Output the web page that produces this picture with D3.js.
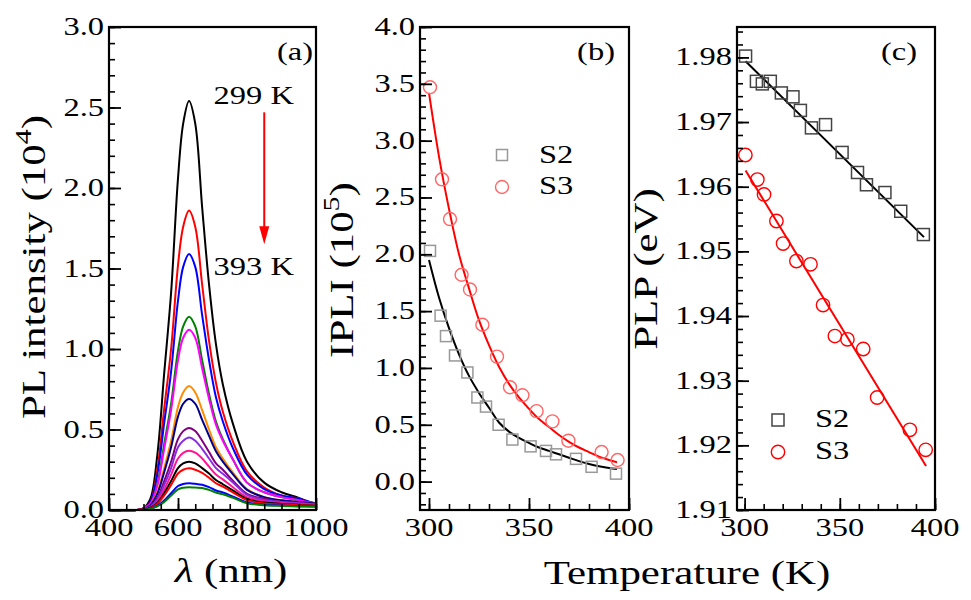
<!DOCTYPE html>
<html><head><meta charset="utf-8">
<script src="https://cdn.jsdelivr.net/npm/d3@7"></script>
<style>
body{margin:0;background:#fff}
svg{display:block;background:#fff}
text{font-family:"Liberation Serif","Times New Roman",serif;fill:#000}
</style>
</head><body>
<svg id="chart" width="971" height="600"></svg>
<script>
// ---------- Panel (a): PL spectra ----------
const lambdaGrid=[400,480,500,520,540,560,580,600,615,632,650,670,690,710,730,760,800,850,900,950,1000];
const spectrum01=[0,0,0.01,0.07,0.34,0.85,1.35,2.06,2.40,2.54,2.40,1.88,1.40,1.03,0.78,0.53,0.30,0.17,0.11,0.075,0.03];
const spectrum02=[0,0,0.01,0.05,0.25,0.63,1.00,1.52,1.76,1.86,1.76,1.40,1.05,0.79,0.61,0.42,0.24,0.14,0.09,0.07,0.03];
const spectrum03=[0,0,0.01,0.05,0.22,0.54,0.86,1.30,1.51,1.59,1.51,1.21,0.93,0.70,0.55,0.38,0.22,0.13,0.09,0.07,0.04];
const spectrum04=[0,0,0.01,0.04,0.16,0.41,0.66,0.99,1.14,1.20,1.14,0.93,0.72,0.55,0.44,0.31,0.17,0.11,0.08,0.06,0.04];
const spectrum05=[0,0,0.01,0.04,0.15,0.38,0.62,0.93,1.07,1.12,1.07,0.88,0.69,0.53,0.43,0.31,0.17,0.11,0.08,0.06,0.04];
const spectrum06=[0,0,0.005,0.03,0.11,0.26,0.43,0.64,0.73,0.77,0.73,0.62,0.50,0.39,0.32,0.23,0.13,0.08,0.06,0.05,0.04];
const spectrum07=[0,0,0.005,0.03,0.10,0.235,0.39,0.58,0.66,0.69,0.66,0.56,0.46,0.365,0.30,0.22,0.125,0.08,0.06,0.05,0.04];
const spectrum08=[0,0,0.004,0.02,0.074,0.18,0.30,0.44,0.49,0.51,0.49,0.43,0.36,0.29,0.25,0.18,0.10,0.07,0.05,0.045,0.036];
const spectrum09=[0,0,0.004,0.02,0.065,0.155,0.26,0.39,0.43,0.45,0.43,0.38,0.32,0.26,0.225,0.17,0.094,0.062,0.05,0.042,0.034];
const spectrum10=[0,0,0.0035,0.016,0.054,0.127,0.22,0.32,0.355,0.368,0.356,0.32,0.27,0.22,0.19,0.14,0.08,0.054,0.043,0.036,0.03];
const spectrum11=[0,0,0.003,0.014,0.044,0.104,0.18,0.26,0.29,0.30,0.29,0.26,0.226,0.186,0.16,0.12,0.068,0.046,0.038,0.032,0.027];
const spectrum12=[0,0,0.003,0.012,0.038,0.09,0.156,0.227,0.25,0.259,0.25,0.23,0.2,0.166,0.145,0.108,0.061,0.041,0.034,0.029,0.025];
const spectrum13=[0,0,0.002,0.009,0.026,0.059,0.104,0.149,0.162,0.166,0.163,0.157,0.142,0.121,0.109,0.083,0.047,0.033,0.028,0.024,0.021];
const spectrum14=[0,0,0.002,0.008,0.022,0.05,0.09,0.128,0.138,0.141,0.139,0.137,0.125,0.108,0.098,0.075,0.042,0.030,0.025,0.022,0.020];
const spectra=[spectrum01,spectrum02,spectrum03,spectrum04,spectrum05,spectrum06,spectrum07,spectrum08,spectrum09,spectrum10,spectrum11,spectrum12,spectrum13,spectrum14];
const spectrumColors=["#000000","#ff0000","#0000ff","#008000","#ff00ff","#ff8c00","#00008b","#800080","#8a2be2","#ff1493","#000000","#ff0000","#0000ff","#008000"];
const tempLabels=["299 K","393 K"];
const tempLabelPos=[[936,2.52],[936,1.46]];   // data coords (nm, 10^4)
const arrowPos=[[850,2.47],[850,1.65]];
const aXTicks=[400,600,800,1000];
const aYTicks=[0,0.5,1.0,1.5,2.0,2.5,3.0];

// ---------- Panel (b): integrated PL intensity ----------
const bS2Temp=[300.5,305.8,308.5,313,319.2,324.2,328.5,334.8,341.7,350.8,358.5,363.5,373.5,381.3,393.5];
const bS2Val=[2.03,1.46,1.28,1.11,0.96,0.74,0.66,0.50,0.37,0.31,0.27,0.24,0.20,0.13,0.07];
const bS3Temp=[300.5,306.5,310.5,316.3,320.5,326.7,334,340.5,346.7,353.8,361.7,369.7,386.3,394.3];
const bS3Val=[3.47,2.66,2.31,1.82,1.69,1.38,1.10,0.83,0.76,0.62,0.53,0.36,0.26,0.19];
const bFitTemp=[300,305,310,315,320,325,330,335,340,345,350,355,360,365,370,375,380,385,390,394];
const bFitS2=[1.95,1.62,1.35,1.12,0.93,0.78,0.65,0.52,0.44,0.385,0.34,0.30,0.27,0.24,0.21,0.18,0.155,0.135,0.12,0.11];
const bFitS3=[3.42,2.86,2.40,2.00,1.70,1.42,1.20,1.01,0.86,0.74,0.64,0.55,0.48,0.41,0.35,0.30,0.26,0.22,0.19,0.17];
const bXTicks=[300,350,400];
const bYTicks=[0,0.5,1.0,1.5,2.0,2.5,3.0,3.5,4.0];

// ---------- Panel (c): PL peak position ----------
const cS2Temp=[300.5,306.2,309.3,313.5,319.3,325.4,329.3,335.1,342.5,351.2,359.3,364,373.7,382,393.9];
const cS2Val=[1.9802,1.9763,1.9759,1.9763,1.9745,1.9739,1.9718,1.9691,1.9696,1.9653,1.9622,1.9603,1.9591,1.9562,1.9526];
const cS3Temp=[300.4,306.7,310.2,316.7,320.2,327.2,334.6,341.2,347.4,354.0,362.3,369.6,386.8,395.1];
const cS3Val=[1.9649,1.9611,1.9588,1.9547,1.9512,1.9485,1.9480,1.9417,1.9369,1.9364,1.9349,1.9274,1.9224,1.9193];
const cFitS2Temp=[300.5,394.2];
const cFitS2=[1.9794,1.9522];
const cFitS3Temp=[300.5,395.3];
const cFitS3=[1.9625,1.9168];
const cXTicks=[300,350,400];
const cYTicks=[1.91,1.92,1.93,1.94,1.95,1.96,1.97,1.98];

const seriesNames=["S2","S3"];

// ---------- drawing ----------
const SX=1.3;
const svg=d3.select("#chart");
const plotTop=27,plotBottom=510;

function addText(parent,x,y,parts,size,anchor,rot){
  const t=parent.append("text")
    .attr("transform",`translate(${x},${y}) rotate(${rot||0}) scale(${SX},1)`)
    .attr("font-size",size).attr("text-anchor",anchor||"start");
  if(typeof parts==="string"){t.text(parts);return t;}
  let shift=0;
  parts.forEach(p=>{
    const ts=t.append("tspan").text(p.t);
    if(p.sup){ts.attr("font-size",size*0.7).attr("dy",-size*0.42);shift=size*0.42;}
    else if(shift){ts.attr("dy",shift);shift=0;}
    if(p.italic)ts.attr("font-style","italic");
  });
  return t;
}

function frameAndAxes(x,y,xMajor,xMinor,yMajor,yMinor,xFmt,yFmt){
  const g=svg.append("g");
  const [x0,x1]=x.range();
  g.append("g").attr("transform",`translate(0,${plotBottom})`)
    .call(d3.axisBottom(x).tickValues(xMinor).tickSize(-6).tickFormat(""))
    .call(s=>{s.select(".domain").remove();s.selectAll("line").attr("stroke","#000").attr("stroke-width",1.6);});
  g.append("g").attr("transform",`translate(0,${plotBottom})`)
    .call(d3.axisBottom(x).tickValues(xMajor).tickSize(-12).tickFormat(""))
    .call(s=>{s.select(".domain").remove();s.selectAll("line").attr("stroke","#000").attr("stroke-width",1.8);});
  g.append("g").attr("transform",`translate(${x0},0)`)
    .call(d3.axisLeft(y).tickValues(yMinor).tickSize(-6).tickFormat(""))
    .call(s=>{s.select(".domain").remove();s.selectAll("line").attr("stroke","#000").attr("stroke-width",1.6);});
  g.append("g").attr("transform",`translate(${x0},0)`)
    .call(d3.axisLeft(y).tickValues(yMajor).tickSize(-12).tickFormat(""))
    .call(s=>{s.select(".domain").remove();s.selectAll("line").attr("stroke","#000").attr("stroke-width",1.8);});
  g.append("rect").attr("x",x0).attr("y",plotTop).attr("width",x1-x0).attr("height",plotBottom-plotTop)
    .attr("fill","none").attr("stroke","#000").attr("stroke-width",2.2);
  xMajor.forEach(v=>addText(g,x(v),536,xFmt(v),25,"middle"));
  yMajor.forEach(v=>addText(g,x0-5,y(v)+8,yFmt(v),25,"end"));
  return g;
}
function rangeTicks(a,b,step){const out=[];const n=Math.round((b-a)/step);for(let i=0;i<=n;i++)out.push(+(a+i*step).toFixed(6));return out;}

// Panel (a)
const xa=d3.scaleLinear().domain([400,1000]).range([109,316]);
const ya=d3.scaleLinear().domain([0,3]).range([plotBottom,plotTop]);
const lineA=d3.line().x((d,i)=>xa(lambdaGrid[i])).y(d=>ya(d)).curve(d3.curveCatmullRom.alpha(0.5));
const ga=svg.append("g");
spectra.forEach((s,i)=>{
  ga.append("path").attr("d",lineA(s)).attr("fill","none").attr("stroke",spectrumColors[i]).attr("stroke-width",2);
});
frameAndAxes(xa,ya,aXTicks,rangeTicks(400,1000,50),aYTicks,rangeTicks(0,3,0.1),d3.format("d"),d3.format(".1f"));
addText(svg,313,60,"(a)",25,"end");
tempLabels.forEach((t,i)=>addText(svg,xa(tempLabelPos[i][0]),ya(tempLabelPos[i][1]),t,25,"end"));
svg.append("line").attr("x1",xa(arrowPos[0][0])).attr("y1",ya(arrowPos[0][1]))
  .attr("x2",xa(arrowPos[1][0])).attr("y2",ya(arrowPos[1][1])-16).attr("stroke","#ff0000").attr("stroke-width",2);
{
  const ax=xa(arrowPos[1][0]),ay=ya(arrowPos[1][1]);
  svg.append("path").attr("d",`M${ax-5},${ay-18}L${ax+5},${ay-18}L${ax},${ay}Z`).attr("fill","#ff0000");
}
addText(svg,45,267,[{t:"PL intensity (10"},{t:"4",sup:true},{t:")"}],33,"middle",-90);
addText(svg,231,582,[{t:"λ",italic:true},{t:" (nm)"}],33,"middle");

// Panel (b)
const xb=d3.scaleLinear().domain([295.5,400]).range([420,629]);
const yb=d3.scaleLinear().domain([-0.25,4.0]).range([plotBottom,plotTop]);
const lineB=d3.line().x(d=>xb(d[0])).y(d=>yb(d[1])).curve(d3.curveCatmullRom.alpha(0.5));
const gb=svg.append("g");
gb.append("path").attr("d",lineB(bFitTemp.map((t,i)=>[t,bFitS2[i]]))).attr("fill","none").attr("stroke","#000").attr("stroke-width",2);
gb.append("path").attr("d",lineB(bFitTemp.map((t,i)=>[t,bFitS3[i]]))).attr("fill","none").attr("stroke","#ff0000").attr("stroke-width",2);
gb.selectAll("rect.s2").data(bS2Temp).enter().append("rect")
  .attr("x",(d)=>xb(d)-5.5).attr("y",(d,i)=>yb(bS2Val[i])-5.5).attr("width",11).attr("height",11)
  .attr("fill","none").attr("stroke","#999").attr("stroke-width",1.5);
gb.selectAll("circle.s3").data(bS3Temp).enter().append("circle")
  .attr("cx",d=>xb(d)).attr("cy",(d,i)=>yb(bS3Val[i])).attr("r",6.5)
  .attr("fill","none").attr("stroke","#ff6666").attr("stroke-width",1.4);
frameAndAxes(xb,yb,bXTicks,rangeTicks(300,400,10),bYTicks,rangeTicks(-0.2,4.0,0.1),d3.format("d"),d3.format(".1f"));
addText(svg,615,60,"(b)",25,"end");
svg.append("rect").attr("x",502-5.5).attr("y",155-5.5).attr("width",11).attr("height",11).attr("fill","none").attr("stroke","#999").attr("stroke-width",1.5);
addText(svg,539,163,seriesNames[0],25,"start");
svg.append("circle").attr("cx",502).attr("cy",187).attr("r",6.5).attr("fill","none").attr("stroke","#ff6666").attr("stroke-width",1.4);
addText(svg,539,194,seriesNames[1],25,"start");
addText(svg,353,270,[{t:"IPLI (10"},{t:"5",sup:true},{t:")"}],33,"middle",-90);

// Panel (c)
const xc=d3.scaleLinear().domain([296,400]).range([737,935]);
const yc=d3.scaleLinear().domain([1.91,1.9847]).range([plotBottom,plotTop]);
const lineC=d3.line().x(d=>xc(d[0])).y(d=>yc(d[1]));
const gc=svg.append("g");
gc.append("path").attr("d",lineC(cFitS2Temp.map((t,i)=>[t,cFitS2[i]]))).attr("fill","none").attr("stroke","#000").attr("stroke-width",2);
gc.append("path").attr("d",lineC(cFitS3Temp.map((t,i)=>[t,cFitS3[i]]))).attr("fill","none").attr("stroke","#ff0000").attr("stroke-width",2);
gc.selectAll("rect.s2").data(cS2Temp).enter().append("rect")
  .attr("x",d=>xc(d)-6).attr("y",(d,i)=>yc(cS2Val[i])-6).attr("width",12).attr("height",12)
  .attr("fill","none").attr("stroke","#444").attr("stroke-width",1.5);
gc.selectAll("circle.s3").data(cS3Temp).enter().append("circle")
  .attr("cx",d=>xc(d)).attr("cy",(d,i)=>yc(cS3Val[i])).attr("r",6.7)
  .attr("fill","none").attr("stroke","#ff0000").attr("stroke-width",1.4);
frameAndAxes(xc,yc,cXTicks,rangeTicks(300,400,10),cYTicks,rangeTicks(1.91,1.984,0.002),d3.format("d"),d3.format(".2f"));
addText(svg,917,60,"(c)",25,"end");
svg.append("rect").attr("x",778-6).attr("y",420-6).attr("width",12).attr("height",12).attr("fill","none").attr("stroke","#444").attr("stroke-width",1.5);
addText(svg,815,427,seriesNames[0],25,"start");
svg.append("circle").attr("cx",778).attr("cy",452).attr("r",6.7).attr("fill","none").attr("stroke","#ff0000").attr("stroke-width",1.4);
addText(svg,815,459,seriesNames[1],25,"start");
addText(svg,657,269,"PLP (eV)",33,"middle",-90);

addText(svg,687,584,"Temperature (K)",33,"middle");
</script>
</body></html>
